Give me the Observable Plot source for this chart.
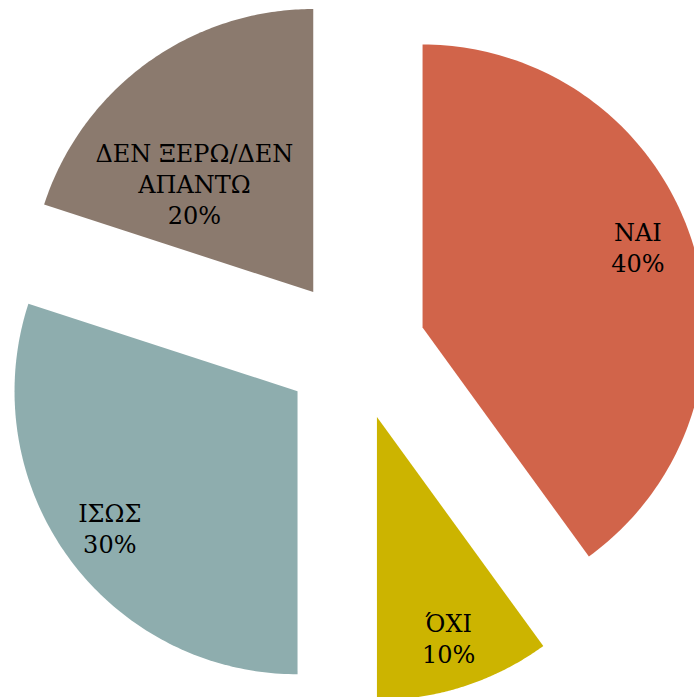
<!DOCTYPE html>
<html>
<head>
<meta charset="utf-8">
<script src="https://cdn.jsdelivr.net/npm/d3@7"></script>
<script src="https://cdn.jsdelivr.net/npm/@observablehq/plot@0.6"></script>
<style>
  html, body { margin: 0; padding: 0; background: #fff; }
  #chart svg { display: block; }
</style>
</head>
<body>
<div id="chart"></div>
<script>
const categories = ["ΝΑΙ", "ΌΧΙ", "ΙΣΩΣ", "ΔΕΝ ΞΕΡΩ/ΔΕΝ ΑΠΑΝΤΩ"];
const values = [40, 10, 30, 20];
const colors = ["#D1644A", "#CCB400", "#8EADAE", "#8B7A6E"];

const W = 694, H = 697;
const R = 283;              // pie radius in px
const cx = 354.5, cy = 349; // pie centre in px
const explode = 0.251;      // explosion, fraction of radius

const total = d3.sum(values);
const arcs = d3.pie().sort(null).value(d => d)(values);

const pts = [];
const labels = [];
arcs.forEach((a, i) => {
  const mid = (a.startAngle + a.endAngle) / 2;
  const ox = explode * Math.sin(mid), oy = -explode * Math.cos(mid);
  const name = categories[i];
  pts.push({k: name, x: ox, y: oy, c: colors[i]});
  const n = 120;
  for (let j = 0; j <= n; j++) {
    const t = a.startAngle + (a.endAngle - a.startAngle) * j / n;
    pts.push({k: name, x: ox + Math.sin(t), y: oy - Math.cos(t), c: colors[i]});
  }
  pts.push({k: name, x: ox, y: oy, c: colors[i]});
  let text = name;
  const long = name.length > 14;
  if (long) {
    const cut = name.lastIndexOf(" ", 14);
    text = name.slice(0, cut) + "\n" + name.slice(cut + 1);
  }
  const pct = Math.round(values[i] / total * 100) + "%";
  const rl = long ? 0.57 : 0.82;
  const la = long ? mid - 0.2 : mid;
  let lx = ox + rl * Math.sin(la), ly = oy - rl * Math.cos(la);
  // keep labels well inside the visible frame
  const maxX = (W - cx) / R - 0.2;
  if (lx > maxX) { ly -= (lx - maxX) * 1.8; lx = maxX; }
  labels.push({x: lx, y: ly, t: text + "\n" + pct});
});

const chart = Plot.plot({
  width: W,
  height: H,
  margin: 0,
  x: {domain: [-cx / R, (W - cx) / R], range: [0, W], axis: null},
  y: {domain: [-cy / R, (H - cy) / R], range: [0, H], axis: null},
  marks: [
    Plot.line(pts, {x: "x", y: "y", z: "k", fill: "c", stroke: null, curve: "linear"}),
    Plot.text(labels, {
      x: "x", y: "y", text: "t",
      fontFamily: "DejaVu Serif",
      fontSize: 24,
      lineHeight: 1.3,
      fill: "#000",
      textAnchor: "middle",
      lineAnchor: "middle"
    })
  ],
  style: {background: "#fff", overflow: "hidden"}
});
document.getElementById("chart").appendChild(chart);
</script>
</body>
</html>
